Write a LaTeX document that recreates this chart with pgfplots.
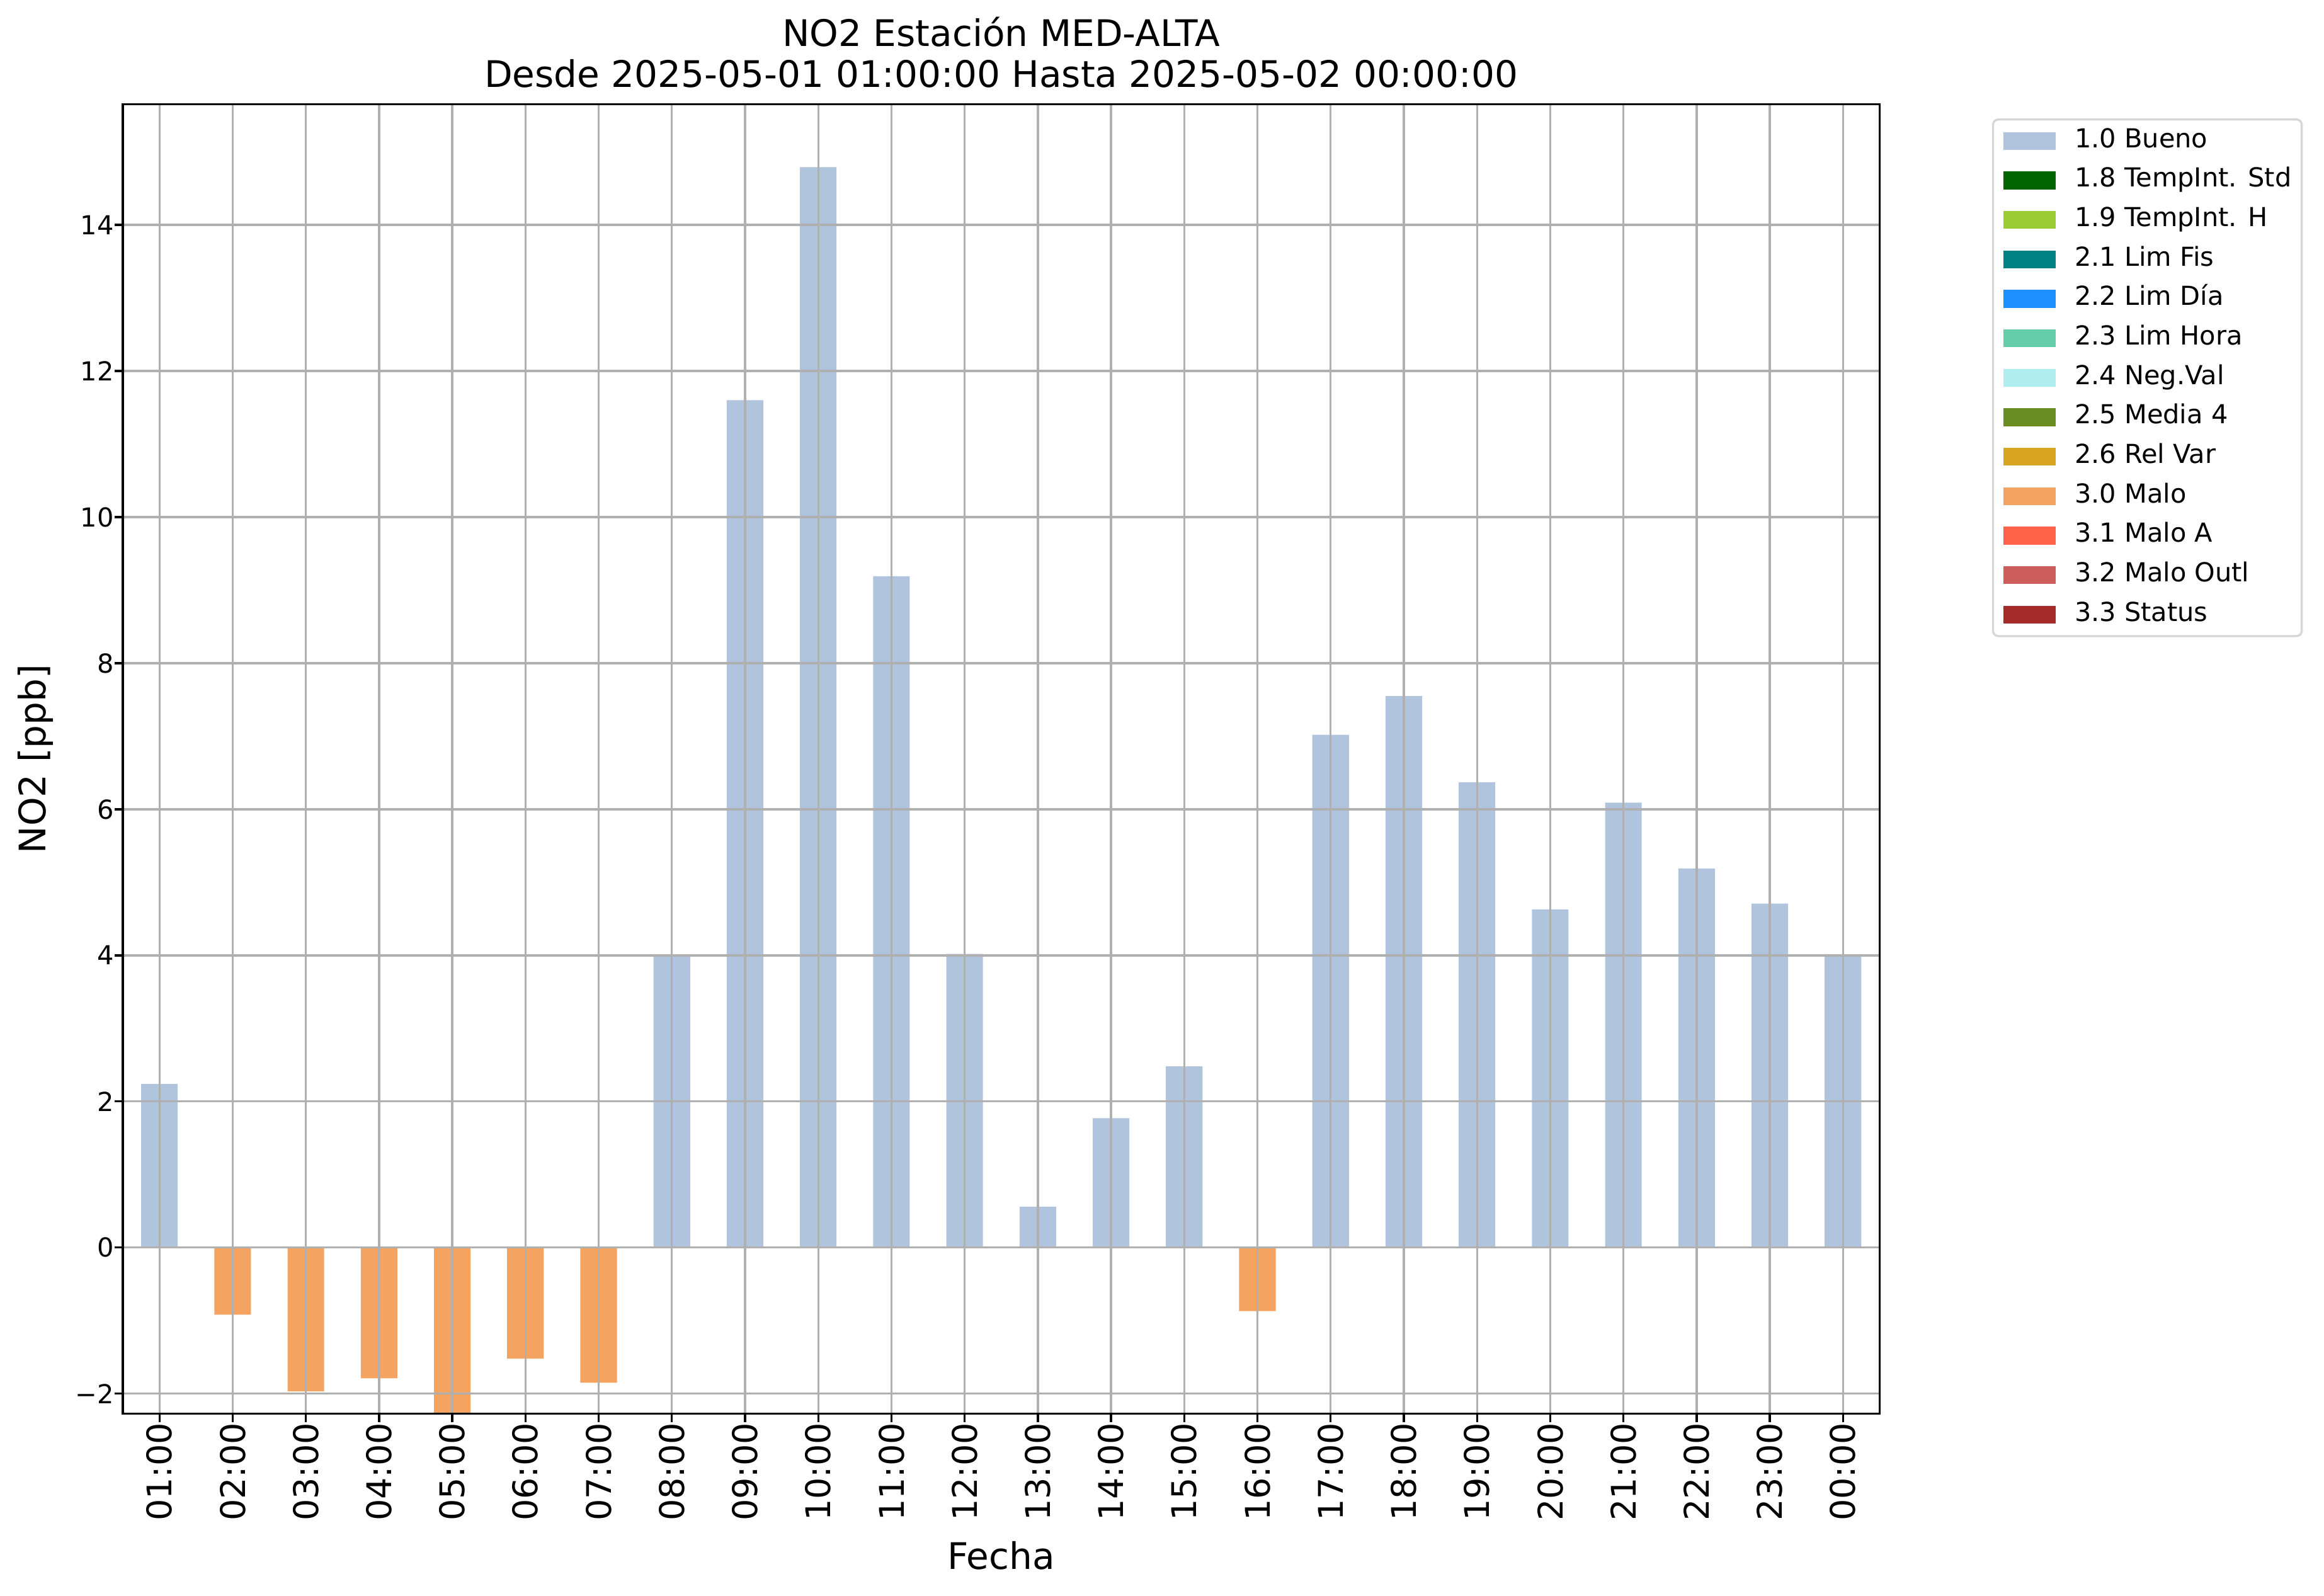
\documentclass[border=0pt]{standalone}
\usepackage{pgfplots}
\pgfplotsset{compat=1.18}
\usepackage{fontspec}
\setmainfont{DejaVu Sans}

\definecolor{bueno}{HTML}{B0C4DE}
\definecolor{tstd}{HTML}{006400}
\definecolor{th}{HTML}{9ACD32}
\definecolor{limfis}{HTML}{008080}
\definecolor{limdia}{HTML}{1E90FF}
\definecolor{limhora}{HTML}{66CDAA}
\definecolor{negval}{HTML}{AFEEEE}
\definecolor{media}{HTML}{6B8E23}
\definecolor{relvar}{HTML}{DAA520}
\definecolor{malo}{HTML}{F4A460}
\definecolor{maloa}{HTML}{FF6347}
\definecolor{maloout}{HTML}{CD5C5C}
\definecolor{status}{HTML}{A52A2A}
\definecolor{gridgray}{HTML}{B0B0B0}
\definecolor{legedge}{HTML}{D6D6D6}

\pgfplotsset{
  patch/.style={legend image code/.code={\fill[##1, sharp corners] (0pt,-3.4pt) rectangle (20pt,3.4pt);}},
}

\begin{document}
\begin{tikzpicture}
\useasboundingbox (-47pt,-69.6pt) rectangle (842pt,540.8pt);
\begin{axis}[
  at={(0,0)}, anchor=south west,
  scale only axis, width=672pt, height=501pt,
  xmin=-0.5, xmax=23.5, ymin=-2.276, ymax=15.655,
  ybar, bar width=0.5,
  every axis plot/.append style={bar shift=0pt, draw=none},
  axis on top,
  line width=0.8pt,
  grid=major,
  grid style={color=gridgray, line width=0.8pt},
  tick align=outside,
  xtick pos=bottom, ytick pos=left,
  major tick length=3.1pt,
  tick style={black, line width=0.8pt},
  xtick={0,...,23},
  xticklabels={01:00,02:00,03:00,04:00,05:00,06:00,07:00,08:00,09:00,10:00,11:00,12:00,13:00,14:00,15:00,16:00,17:00,18:00,19:00,20:00,21:00,22:00,23:00,00:00},
  xticklabel style={rotate=90, anchor=east, inner sep=0pt, font=\fontsize{13}{15}\selectfont},
  ytick={-2,0,2,4,6,8,10,12,14},
  yticklabels={−2,0,2,4,6,8,10,12,14},
  yticklabel style={inner sep=0pt, font=\fontsize{10}{12}\selectfont},
  xlabel={Fecha},
  xlabel style={at={(axis description cs:0.5,-0.1188)}, anchor=base, inner sep=0pt, font=\fontsize{14}{16}\selectfont},
  ylabel={NO2 [ppb]},
  ylabel style={at={(axis description cs:-0.0498,0.5)}, anchor=center, inner sep=0pt, font=\fontsize{14}{16}\selectfont},
  title={NO2 Estación MED-ALTA\\Desde 2025-05-01 01:00:00 Hasta 2025-05-02 00:00:00},
  title style={at={(axis description cs:0.5,1)}, anchor=south, yshift=-0.2pt, align=center, inner sep=0pt, font=\fontsize{14}{15.8}\selectfont},
  legend cell align=left,
  legend style={at={(1.064,0.989)}, anchor=north west,
    draw=legedge, line width=0.8pt, rounded corners=2pt,
    inner xsep=3.9pt, inner ysep=3.2pt,
    font=\fontsize{10}{12}\selectfont,
    row sep=5.1pt,
    nodes={inner sep=0pt, text height=7.5pt, text depth=2.5pt},
    /tikz/every odd column/.append style={column sep=7.3pt}},
]
\addplot[fill=bueno, patch] coordinates {
  (0,2.24) (7,4.00) (8,11.60) (9,14.79) (10,9.19) (11,4.02) (12,0.56)
  (13,1.77) (14,2.48) (16,7.02) (17,7.55) (18,6.37) (19,4.63) (20,6.09)
  (21,5.19) (22,4.71) (23,4.00)
};
\addlegendentry{1.0 Bueno}
\addlegendimage{fill=tstd, draw=none, patch}
\addlegendentry{1.8 TempInt. Std}
\addlegendimage{fill=th, draw=none, patch}
\addlegendentry{1.9 TempInt. H}
\addlegendimage{fill=limfis, draw=none, patch}
\addlegendentry{2.1 Lim Fis}
\addlegendimage{fill=limdia, draw=none, patch}
\addlegendentry{2.2 Lim Día}
\addlegendimage{fill=limhora, draw=none, patch}
\addlegendentry{2.3 Lim Hora}
\addlegendimage{fill=negval, draw=none, patch}
\addlegendentry{2.4 Neg.Val}
\addlegendimage{fill=media, draw=none, patch}
\addlegendentry{2.5 Media 4}
\addlegendimage{fill=relvar, draw=none, patch}
\addlegendentry{2.6 Rel Var}
\addplot[fill=malo, patch] coordinates {
  (1,-0.92) (2,-1.97) (3,-1.79) (4,-2.40) (5,-1.52) (6,-1.85) (15,-0.87)
};
\addlegendentry{3.0 Malo}
\addlegendimage{fill=maloa, draw=none, patch}
\addlegendentry{3.1 Malo A}
\addlegendimage{fill=maloout, draw=none, patch}
\addlegendentry{3.2 Malo Outl}
\addlegendimage{fill=status, draw=none, patch}
\addlegendentry{3.3 Status}
\end{axis}
\end{tikzpicture}
\end{document}
